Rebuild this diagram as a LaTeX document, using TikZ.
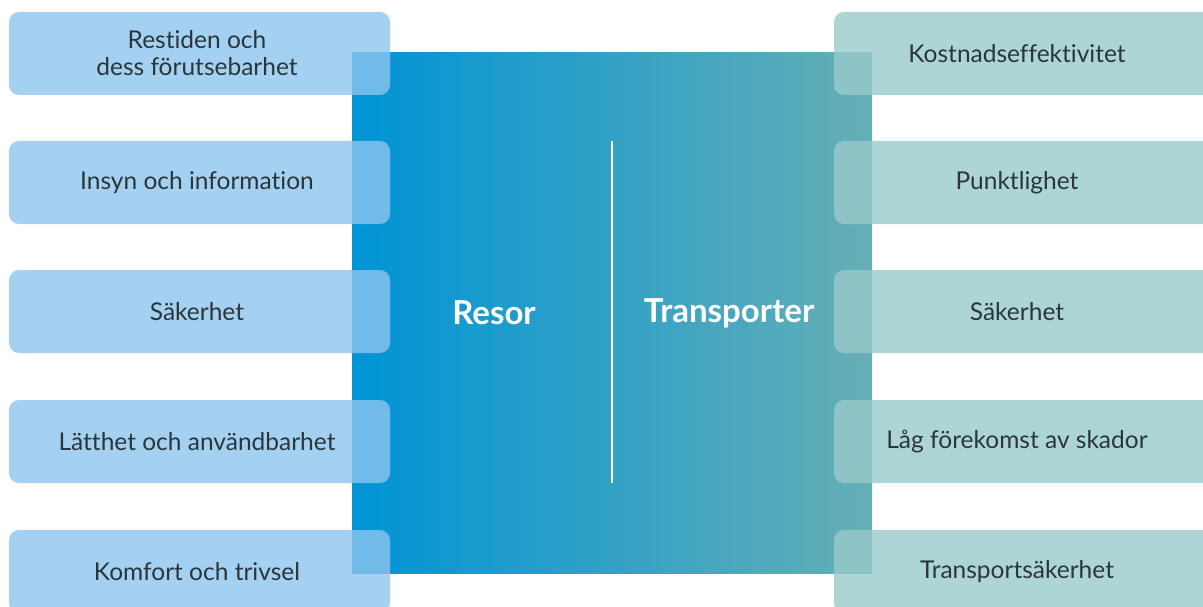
\documentclass[tikz,border=0pt]{standalone}
\usepackage{fontspec}
\setmainfont{Lato}[Ligatures=NoCommon]
\definecolor{lbox}{RGB}{141,197,239}
\definecolor{rbox}{RGB}{154,202,202}
\definecolor{cleft}{RGB}{0,148,214}
\definecolor{cright}{RGB}{102,175,181}
\definecolor{txt}{RGB}{42,54,58}
\tikzset{
  itembox/.style={rounded corners=10pt, fill opacity=0.8, draw=none},
  itemtext/.style={text=txt, font=\fontsize{24.5}{27}\selectfont, align=center},
  bigtext/.style={text=white, font=\bfseries\fontsize{33}{38}\selectfont}
}
\begin{document}
\begin{tikzpicture}[x=1pt,y=-1pt]
\useasboundingbox (0,0) rectangle (1203,607);
\shade[left color=cleft, right color=cright] (352,53) rectangle (872,573);
\coordinate (ltop) at (612,141);
\coordinate (lbot) at (612,483);
\draw[white, line width=2pt] (ltop) -- (lbot);
\node[bigtext] (resor) at (494,313) {Resor};
\node[bigtext] (transp) at (729,313) {Transporter};
% left boxes
\foreach \i/\yc/\t in {1/53.5/{Restiden och\\dess förutsebarhet}, 2/182.5/{Insyn och information}, 3/311.5/{Säkerhet}, 4/441.5/{Lätthet och användbarhet}, 5/571.5/{Komfort och trivsel}} {
  \fill[itembox, lbox] (9,\yc-41.5) rectangle (390,\yc+41.5);
  \node[itemtext] (l\i) at (197,\yc) {\t};
}
\foreach \i/\yc/\t in {1/53.5/{Kostnadseffektivitet}, 2/182.5/{Punktlighet}, 3/311.5/{Säkerhet}, 4/441.5/{Låg förekomst av skador}, 5/571.5/{Transportsäkerhet}} {
  \fill[itembox, rbox] (834,\yc-41.5) rectangle (1213,\yc+41.5);
  \node[itemtext] (r\i) at (1017,\yc) {\t};
}
\end{tikzpicture}
\end{document}
